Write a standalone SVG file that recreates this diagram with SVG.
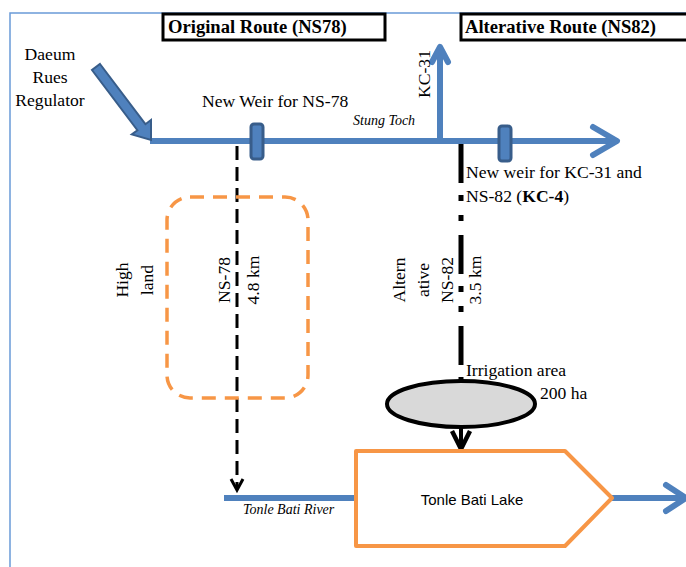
<svg xmlns="http://www.w3.org/2000/svg" width="686" height="567" viewBox="0 0 686 567">
<style>
.t{font-family:"Liberation Serif","Times New Roman",serif;font-size:17.6px;fill:#000}
.tb{font-family:"Liberation Serif","Times New Roman",serif;font-size:18.6px;font-weight:bold;fill:#000}
.ti{font-family:"Liberation Serif","Times New Roman",serif;font-size:14px;font-style:italic;fill:#000}
.ts{font-family:"Liberation Sans",Arial,sans-serif;font-size:15px;fill:#000}
.river{stroke:#4F81BD;stroke-width:6;fill:none;stroke-linecap:round;stroke-linejoin:round}
.weir{fill:#4F81BD;stroke:#385D8A;stroke-width:3}
.box{fill:#fff;stroke:#000;stroke-width:3}
</style>
<rect x="10" y="13" width="700" height="600" fill="none" stroke="#6A9BD8" stroke-width="1.5"/>

<g id="title-original">
<rect class="box" x="163" y="14" width="222" height="26"/>
<text class="tb" x="168" y="33">Original Route (NS78)</text>
</g>
<g id="title-alternative">
<rect class="box" x="461" y="14" width="232" height="26"/>
<text class="tb" x="465" y="33">Alterative Route (NS82)</text>
</g>

<g id="connectors">
<!-- Stung Toch main river -->
<path class="river" d="M150 141 H615" style="stroke-linecap:butt"/>
<path class="river" d="M593 127 L617 141 L593 155"/>
<!-- KC-31 -->
<path class="river" d="M440 141 V48" style="stroke-linecap:butt"/>
<path class="river" d="M432 62 L440 47 L448 62"/>
<!-- Daeum inflow block arrow -->
<polygon points="100,64 145.4,124.2 151,120 151,140 131.8,134.4 137.4,130.2 92,70" fill="#4F81BD" stroke="#385D8A" stroke-width="2" stroke-linejoin="miter"/>
<!-- NS-78 dashed canal -->
<path d="M237 146 V489" stroke="#000" stroke-width="3" stroke-dasharray="14 7" fill="none"/>
<path d="M231 479 L237 490 L243 479" stroke="#000" stroke-width="3" fill="none"/>
<!-- NS-82 dash-dot canal -->
<path d="M461 144 V380" stroke="#000" stroke-width="5" stroke-dasharray="39 12 6 14 6 14" fill="none"/>
<!-- irrigation to lake -->
<path d="M461 427 V448" stroke="#000" stroke-width="4" fill="none"/>
<path d="M452 431 L461 449 L470 431" stroke="#000" stroke-width="4.5" fill="none" stroke-linejoin="miter"/>
<!-- Tonle Bati river -->
<path class="river" d="M224 498 H356" style="stroke-linecap:butt"/>
<path class="river" d="M612 498 H684" style="stroke-linecap:butt"/>
<path class="river" d="M666 485 L686 498 L666 511"/>
</g>

<g id="daeum-label">
<text class="t" x="50" y="60" text-anchor="middle">Daeum</text>
<text class="t" x="50" y="83" text-anchor="middle">Rues</text>
<text class="t" x="50" y="106" text-anchor="middle">Regulator</text>
</g>

<g id="weir-ns78">
<rect class="weir" x="251" y="124" width="12" height="35" rx="3"/>
<text class="t" x="202" y="107">New Weir for NS-78</text>
</g>
<text class="ti" x="353" y="125">Stung Toch</text>

<g id="kc31-label">
<text class="t" transform="translate(430,74) rotate(-90)" text-anchor="middle">KC-31</text>
</g>

<g id="weir-kc4">
<rect class="weir" x="499" y="126" width="12" height="35" rx="3"/>
<text class="t" x="466" y="178">New weir for KC-31 and</text>
<text class="t" x="466" y="202">NS-82 (<tspan font-weight="bold">KC-4</tspan>)</text>
</g>

<g id="highland">
<rect x="167" y="197" width="141" height="201" rx="23" fill="none" stroke="#F79646" stroke-width="3.5" stroke-dasharray="14 9"/>
<text class="t" transform="translate(128,280) rotate(-90)" text-anchor="middle">High</text>
<text class="t" transform="translate(153,280) rotate(-90)" text-anchor="middle">land</text>
</g>

<g id="ns78-label">
<text class="t" transform="translate(230,280) rotate(-90)" text-anchor="middle">NS-78</text>
<text class="t" transform="translate(259,280) rotate(-90)" text-anchor="middle">4.8 km</text>
</g>

<g id="ns82-label">
<text class="t" transform="translate(405,280) rotate(-90)" text-anchor="middle">Altern</text>
<text class="t" transform="translate(429,280) rotate(-90)" text-anchor="middle">ative</text>
<text class="t" transform="translate(453,280) rotate(-90)" text-anchor="middle">NS-82</text>
<text class="t" transform="translate(481,280) rotate(-90)" text-anchor="middle">3.5 km</text>
</g>

<g id="irrigation-area">
<ellipse cx="461" cy="404" rx="74" ry="23" fill="#D9D9D9" stroke="#000" stroke-width="4"/>
<text class="t" x="466" y="376">Irrigation area</text>
<text class="t" x="540" y="399">200 ha</text>
</g>

<g id="tonle-bati-lake">
<polygon points="356,451 565,451 612,498 565,546 356,546" fill="#fff" stroke="#F79646" stroke-width="4" stroke-linejoin="round"/>
<text class="ts" x="472" y="505" text-anchor="middle">Tonle Bati Lake</text>
</g>
<text class="ti" x="243" y="514">Tonle Bati River</text>
</svg>
